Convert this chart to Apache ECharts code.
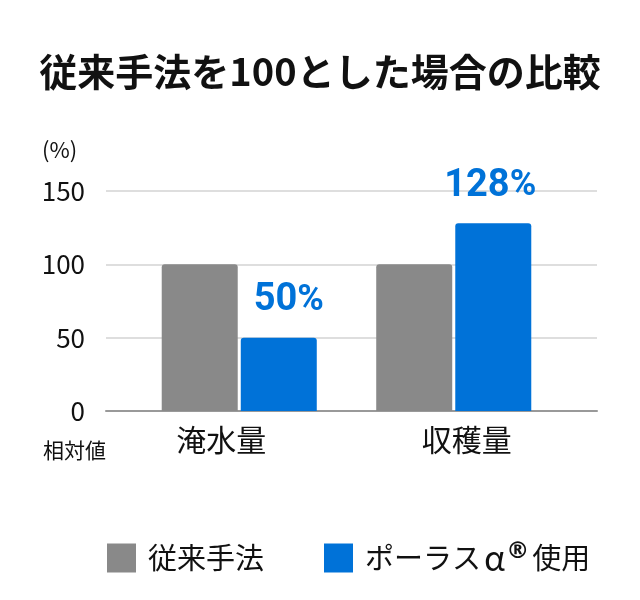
<!DOCTYPE html>
<html>
<head>
<meta charset="utf-8">
<script src="https://cdn.jsdelivr.net/npm/echarts@6/dist/echarts.min.js"></script>
<style>
  html, body { margin: 0; padding: 0; background: #fff; }
  #chart { width: 640px; height: 600px; }
</style>
</head>
<body>
<div id="chart"></div>
<script>
// データ
const categories = ['淹水量', '収穫量'];
const seriesNames = ['従来手法', 'ポーラスα®使用'];
const conventional = [100, 100];
const porous = [50, 128];
const yTicks = [0, 50, 100, 150];
const labelOffsets = [[10, 0], [-3, 0]];

const GRAY = '#898989';
const BLUE = '#0072d8';
const CJK = '"Noto Sans CJK JP", "Noto Sans", sans-serif';
const NUM = 'Roboto, "Noto Sans CJK JP", sans-serif';

const chart = echarts.init(document.getElementById('chart'));

const option = {
    backgroundColor: '#fff',
    animation: false,
    title: {
        text: '従来手法を100とした場合の比較',
        left: 'center',
        top: 48,
        textStyle: { fontFamily: CJK, fontSize: 38, fontWeight: 'bold', color: '#111' }
    },
    legend: {
        data: seriesNames,
        left: 102,
        top: 536,
        icon: 'rect',
        itemWidth: 29,
        itemHeight: 29,
        itemGap: 60,
        formatter: name => name.replace('α', '{a|α}').replace('®', '{r|®}'),
        textStyle: {
            fontFamily: CJK, fontSize: 29, color: '#111', padding: [0, 0, 0, 7],
            rich: {
                a: { fontFamily: CJK, fontSize: 34, color: '#111', padding: [0, 1, 0, 3] },
                r: { fontFamily: '"DejaVu Sans", sans-serif', fontSize: 23, fontWeight: 'bold', color: '#111', verticalAlign: 'top', padding: [0, 3, 0, 0] }
            }
        }
    },
    graphic: [
        {
            type: 'text', left: 42, top: 139,
            style: { text: '(%)', font: '22px "Noto Sans CJK JP"', fill: '#111' }
        },
        {
            type: 'text', left: 43, top: 440,
            style: { text: '相対値', font: '21px "Noto Sans CJK JP"', fill: '#111' }
        }
    ],
    grid: [
        { left: 106, right: 43, top: 191, bottom: 189 },
        { left: 132, right: 79, top: 191, bottom: 189 }
    ],
    xAxis: [
        {
            gridIndex: 0,
            type: 'category',
            data: categories,
            axisLine: { lineStyle: { color: '#999', width: 2 } },
            axisTick: { show: false },
            axisLabel: { fontFamily: CJK, fontSize: 30, color: '#111', margin: 14, padding: [0, 15, 0, 0] }
        },
        { gridIndex: 1, type: 'category', data: categories, show: false }
    ],
    yAxis: [
        {
            gridIndex: 0,
            type: 'value',
            min: yTicks[0],
            max: yTicks[yTicks.length - 1],
            interval: 50,
            axisLine: { show: false },
            axisTick: { show: false },
            axisLabel: { fontFamily: CJK, fontSize: 26, color: '#111', margin: 21 },
            splitLine: { lineStyle: { color: '#dedede', width: 2 } }
        },
        {
            gridIndex: 1,
            type: 'value',
            min: yTicks[0],
            max: yTicks[yTicks.length - 1],
            show: false,
            splitLine: { show: false }
        }
    ],
    series: [
        {
            name: seriesNames[0],
            type: 'bar',
            xAxisIndex: 1,
            yAxisIndex: 1,
            data: conventional,
            barWidth: 76,
            barGap: '4%',
            itemStyle: { color: GRAY, borderRadius: [3, 3, 0, 0] }
        },
        {
            name: seriesNames[1],
            type: 'bar',
            xAxisIndex: 1,
            yAxisIndex: 1,
            data: porous.map((v, i) => ({ value: v, label: { offset: labelOffsets[i] } })),
            barWidth: 76,
            itemStyle: { color: BLUE, borderRadius: [3, 3, 0, 0] },
            label: {
                show: true,
                position: 'top',
                distance: 18,
                formatter: '{n|{c}}{p|%}',
                rich: {
                    n: { fontFamily: NUM, fontSize: 38, fontWeight: 'bold', color: BLUE },
                    p: { fontFamily: NUM, fontSize: 36, fontWeight: 'bold', color: BLUE }
                }
            }
        }
    ]
};

chart.setOption(option);
</script>
</body>
</html>
